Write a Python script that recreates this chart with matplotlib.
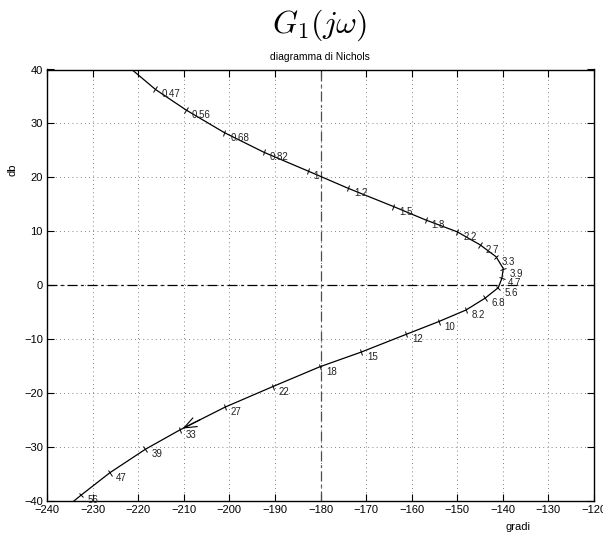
import numpy as np
import matplotlib
matplotlib.use("Agg")
import matplotlib.pyplot as plt
from matplotlib.markers import MarkerStyle
from matplotlib.transforms import Affine2D

plt.rcParams['font.family'] = ['Liberation Sans', 'DejaVu Sans']
plt.rcParams['mathtext.fontset'] = 'cm'

# frequencies (rad/s) marked on the curve
omega_labels = ["0.47", "0.56", "0.68", "0.82", "1", "1.2", "1.5", "1.8", "2.2", "2.7",
                "3.3", "3.9", "4.7", "5.6", "6.8", "8.2", "10", "12", "15", "18",
                "22", "27", "33", "39", "47", "56"]
# phase (degrees) at each marked frequency
phase_deg = [-216.2, -209.5, -201.1, -192.4, -182.8, -174.0, -164.0, -156.9, -150.0, -145.0,
             -141.5, -139.9, -140.2, -141.0, -143.9, -148.1, -154.1, -161.2, -171.1, -180.1,
             -190.5, -200.95, -210.8, -218.4, -226.2, -232.5]
# magnitude (dB) at each marked frequency
mag_db = [36.3, 32.5, 28.3, 24.65, 21.2, 18.0, 14.6, 12.1, 9.9, 7.5,
          5.3, 3.1, 1.3, -0.45, -2.4, -4.6, -6.75, -9.1, -12.4, -15.1,
          -18.8, -22.6, -26.8, -30.4, -34.75, -38.9]
# curve ends where it leaves the plot
start_phase, start_mag = -221.4, 40.0
end_phase, end_mag = -234.1, -40.0

xticks = list(range(-240, -119, 10))
yticks = list(range(-40, 41, 10))

fig = plt.figure(figsize=(6.03, 5.39), dpi=100)
ax = fig.add_axes([47/603, 1-501/539, (594-47)/603, (501-69.5)/539])

curve_x = [start_phase] + phase_deg + [end_phase]
curve_y = [start_mag] + mag_db + [end_mag]
ax.plot(curve_x, curve_y, color='black', lw=0.9, zorder=3)

ax.set_xlim(-240, -120)
ax.set_ylim(-40, 40)
ax.set_xticks(xticks)
ax.set_yticks(yticks)
ax.tick_params(direction='in', length=5, width=0.8, top=True, right=True,
               labelsize=8, pad=3)
ax.grid(True, linestyle=(0, (1, 4)), color='0.35', lw=0.6)
for s in ax.spines.values():
    s.set_linewidth(1.0)

# reference lines
ax.axhline(0, color='black', lw=0.9, linestyle=(0, (8, 3, 2, 3)), zorder=2)
ax.axvline(-180, color='0.3', lw=0.9, linestyle=(0, (8, 3, 2, 3)), zorder=2)

# tick marks perpendicular to the curve + labels
fig.canvas.draw()
pts = ax.transData.transform(np.column_stack([curve_x, curve_y]))
for i, (px, py, lab) in enumerate(zip(phase_deg, mag_db, omega_labels)):
    k = i + 1
    d = pts[k + 1] - pts[k - 1]
    ang = np.degrees(np.arctan2(d[1], d[0]))
    ax.plot([px], [py], marker=MarkerStyle('_', transform=Affine2D().rotate_deg(ang + 90)),
            ms=4.5, mew=0.7, color='black', zorder=4)
    t = ax.annotate(lab, xy=(px, py), xytext=(6, -5), textcoords='offset pixels',
                    fontsize=7, ha='left', va='center', color='#222222', zorder=5)
    t.set_clip_on(True)

# direction arrow at omega = 33
i33 = omega_labels.index("33")
ax.annotate('', xy=(phase_deg[i33], mag_db[i33]),
            xytext=((phase_deg[i33] + phase_deg[i33 - 1]) / 2, (mag_db[i33] + mag_db[i33 - 1]) / 2),
            arrowprops=dict(arrowstyle='->,head_length=0.9,head_width=0.35', color='black', lw=0.8),
            zorder=5)

fig.text(320/603, 1-25/539, r'$G_1(j\omega)$', fontsize=23, ha='center', va='center')
fig.text(320/603, 1-57/539, 'diagramma di Nichols', fontsize=7.5, ha='center', va='center')
fig.text(518/603, 1-527/539, 'gradi', fontsize=8, ha='center', va='center')
fig.text(13/603, 1-170/539, 'db', fontsize=8, ha='center', va='center', rotation=90)

fig.savefig('out.png', dpi=100)
